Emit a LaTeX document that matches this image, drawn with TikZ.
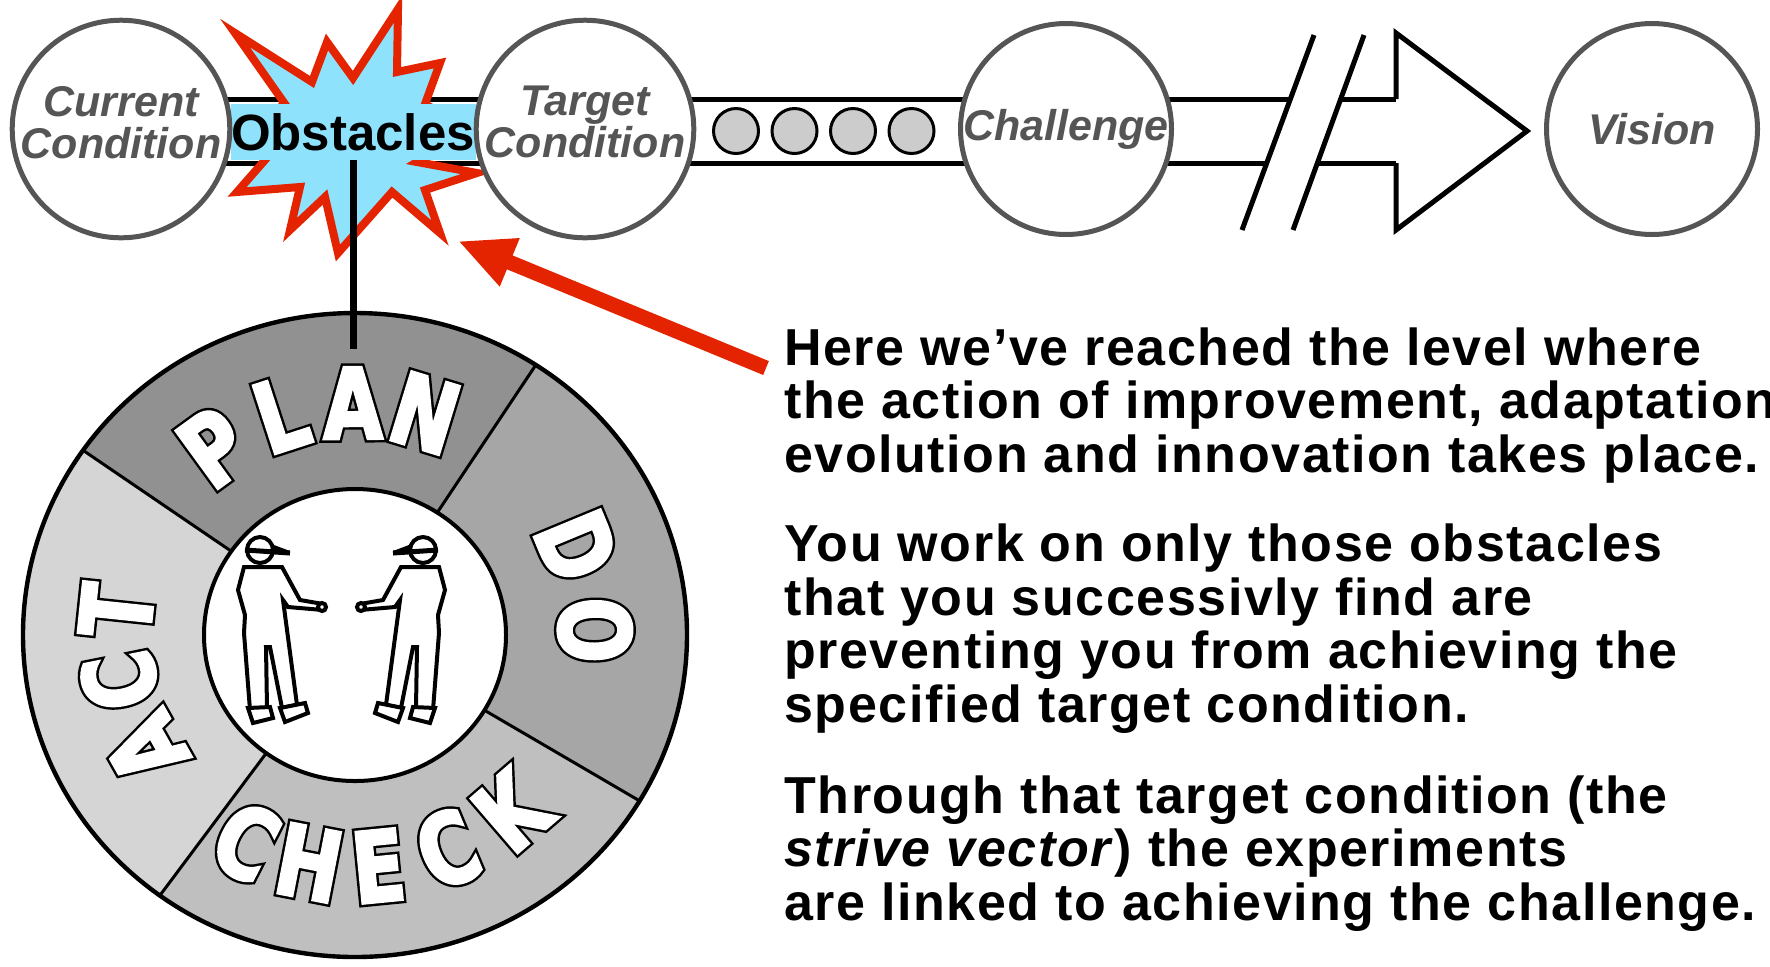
\documentclass[tikz,border=0pt]{standalone}
\usepackage{fontspec}
\setmainfont{Liberation Sans}
\newfontfamily\bodyfont{Liberation Sans}[LetterSpace=3]
\newfontfamily\ringfont{DejaVu Sans}[FakeStretch=0.78, FakeBold=3]
\newfontfamily\ringrim{DejaVu Sans}[FakeStretch=0.78, FakeBold=8]
\usetikzlibrary{arrows.meta}

\definecolor{labelgray}{RGB}{85,85,85}
\definecolor{burstblue}{RGB}{142,226,252}
\definecolor{burstred}{RGB}{228,35,0}
\definecolor{planfill}{gray}{0.57}
\definecolor{dofill}{gray}{0.65}
\definecolor{checkfill}{gray}{0.75}
\definecolor{actfill}{gray}{0.835}

% white letter over a fat black copy of itself
\newcommand\outlined[1]{\rlap{\ringrim\bfseries\color{black}#1}\textcolor{white}{#1}}
% lifts a two line label a little above the centre
\newcommand\lift{\rule[-7pt]{0pt}{0pt}}

\tikzset{
  stage/.style={circle, draw=labelgray, line width=2.5pt, fill=white,
    minimum size=105.5pt, inner sep=0pt, align=center, text=labelgray,
    font=\bfseries\itshape\fontsize{21.5}{21}\selectfont},
  bead/.style={circle, draw, line width=1.5pt, fill=black!20,
    minimum size=22.5pt, inner sep=0pt},
  burst/.style={fill=burstblue, draw=burstred, line width=4pt},
  obstbox/.style={fill=burstblue, minimum width=122.5pt, minimum height=28pt,
    inner sep=0pt, font=\bfseries\fontsize{25.5}{25.5}\selectfont},
  ringglyph/.style={inner sep=0pt, font=\ringfont\bfseries\fontsize{49}{49}\selectfont},
  redarrow/.style={draw=burstred, line width=7.5pt,
    -{Triangle[length=28pt, width=24pt]}},
  para/.style={anchor=base west, inner sep=0pt, align=left,
    font=\bodyfont\bfseries\fontsize{26}{26.75}\selectfont},
  worker/.pic={
    \draw[line width=2pt, fill=white] (-16,17) -- (-22,40) -- (-15,65) -- (-16,83)
      -- (-10,160) -- (7,158) -- (6,97) -- (10,97) -- (22,158) -- (37,155)
      -- (23,50) -- (28,57) -- (63,60) -- (63,54) -- (40,50) -- (22,17) -- cycle;
    \draw[line width=2pt, fill=white] (62,57) circle (4);
    \draw[line width=2pt, fill=white] (0,0) circle (13);
    \draw[line width=2.5pt] (-15,0) -- (30,3);
    \fill (14,-5) -- (30,1) -- (14,3) -- cycle;
    \draw[line width=2pt, fill=white] (-12,158) -- (10,157) -- (13,168) -- (-7,173) -- cycle;
    \draw[line width=2pt, fill=white] (20,158) -- (45,153) -- (48,163) -- (25,172) -- cycle;
  }
}

\begin{document}
\begin{tikzpicture}[x=0.5pt, y=-0.5pt]
  \useasboundingbox (0,0) rectangle (1770,966);

  % band from current condition to the arrow head
  \draw[line width=2.5pt] (121,99) -- (1396,99);
  \draw[line width=2.5pt] (121,163) -- (1396,163);
  % break in the band
  \fill[white] (1242,230) -- (1314,35) -- (1364,35) -- (1293,230) -- cycle;
  \draw[line width=2.5pt] (1242,230) -- (1314,35);
  \draw[line width=2.5pt] (1293,230) -- (1364,35);
  \draw[line width=2.5pt, fill=white] (1396,99) -- (1396,33) -- (1527,131)
    -- (1396,230) -- (1396,163);

  % steps between target condition and challenge
  \foreach \i in {0,...,3}
    \node[bead] (bead\i) at (736+58.5*\i,131) {};

  % obstacles burst
  \filldraw[burst] (235,33) -- (312,82) -- (327,42) -- (353,78) -- (398,9)
    -- (397,72) -- (440,63) -- (425,104) -- (470,130) -- (417,162) -- (477,173)
    -- (425,190) -- (440,233) -- (392,192) -- (338,253) -- (325,197) -- (290,230)
    -- (300,187) -- (237,192) -- (265,160) -- (245,130) -- (285,104) -- cycle;
  \node[obstbox] (obst) at (353,132) {Obstacles};

  \node[stage] (cur) at (121,129) {Current\\Condition\lift};
  \node[stage] (tgt) at (585,129) {Target\\Condition\lift};
  \node[stage] (chal) at (1066,129) {Challenge};
  \node[stage] (vis) at (1652,129) {Vision};

  % PDCA wheel
  \coordinate (hub) at (355,635);
  \foreach \a/\b/\c in {-57/-145/planfill, -145/-234/actfill,
                        -234/-329/checkfill, -329/-417/dofill}
    \fill[\c] ([shift={(hub)}]\a:332 and 322)
      arc[start angle=\a, end angle=\b, x radius=332, y radius=322]
      -- ([shift={(hub)}]\b:151 and 146)
      arc[start angle=\b, end angle=\a, x radius=151, y radius=146] -- cycle;
  \foreach \a in {-57,-145,-234,-329}
    \draw[line width=1.5pt] ([shift={(hub)}]\a:151 and 146)
      -- ([shift={(hub)}]\a:332 and 322);
  \draw[line width=2.2pt] (hub) ellipse [x radius=332, y radius=322];
  \draw[line width=2pt, fill=white] (hub) ellipse [x radius=151, y radius=146];

  \foreach \ang/\ch [count=\n] in {126/P, 108/L, 90.5/A, 73/N, 22.5/D, 1.2/O,
                                   209.4/A, 191.4/C, 174/T}
    \node[ringglyph, rotate=\ang-90] (ring\n) at ([shift={(-\ang:240 and 232)}]hub)
      {\outlined{\ch}};
  \foreach \ang/\ch [count=\n] in {243/C, 259/H, 275.6/E, 292.7/C, 310.7/K}
    \node[ringglyph, rotate=\ang+90] (check\n) at ([shift={(-\ang:240 and 232)}]hub)
      {\outlined{\ch}};

  \pic at (260,550) {worker};
  \pic[xscale=-1] at (423,550) {worker};

  % obstacles hang on the plan step
  \coordinate (plantop) at (353,349);
  \draw[line width=3.5pt] (obst.south) -- (plantop);

  % pointer from the text to the burst
  \coordinate (tail) at (766,368);
  \coordinate (hit) at (458,241);
  \draw[redarrow] (tail) -- (hit);

  \node[para] (para1) at (784,472) {Here we’ve reached the level where\\
    the action of improvement, adaptation\\
    evolution and innovation takes place.};
  \node[para] (para2) at (784,722) {You work on only those obstacles\\
    that you successivly find are\\
    preventing you from achieving the\\
    specified target condition.};
  \node[para] (para3) at (784,920) {Through that target condition (the\\
    \textit{strive vector}) the experiments\\
    are linked to achieving the challenge.};
\end{tikzpicture}
\end{document}
